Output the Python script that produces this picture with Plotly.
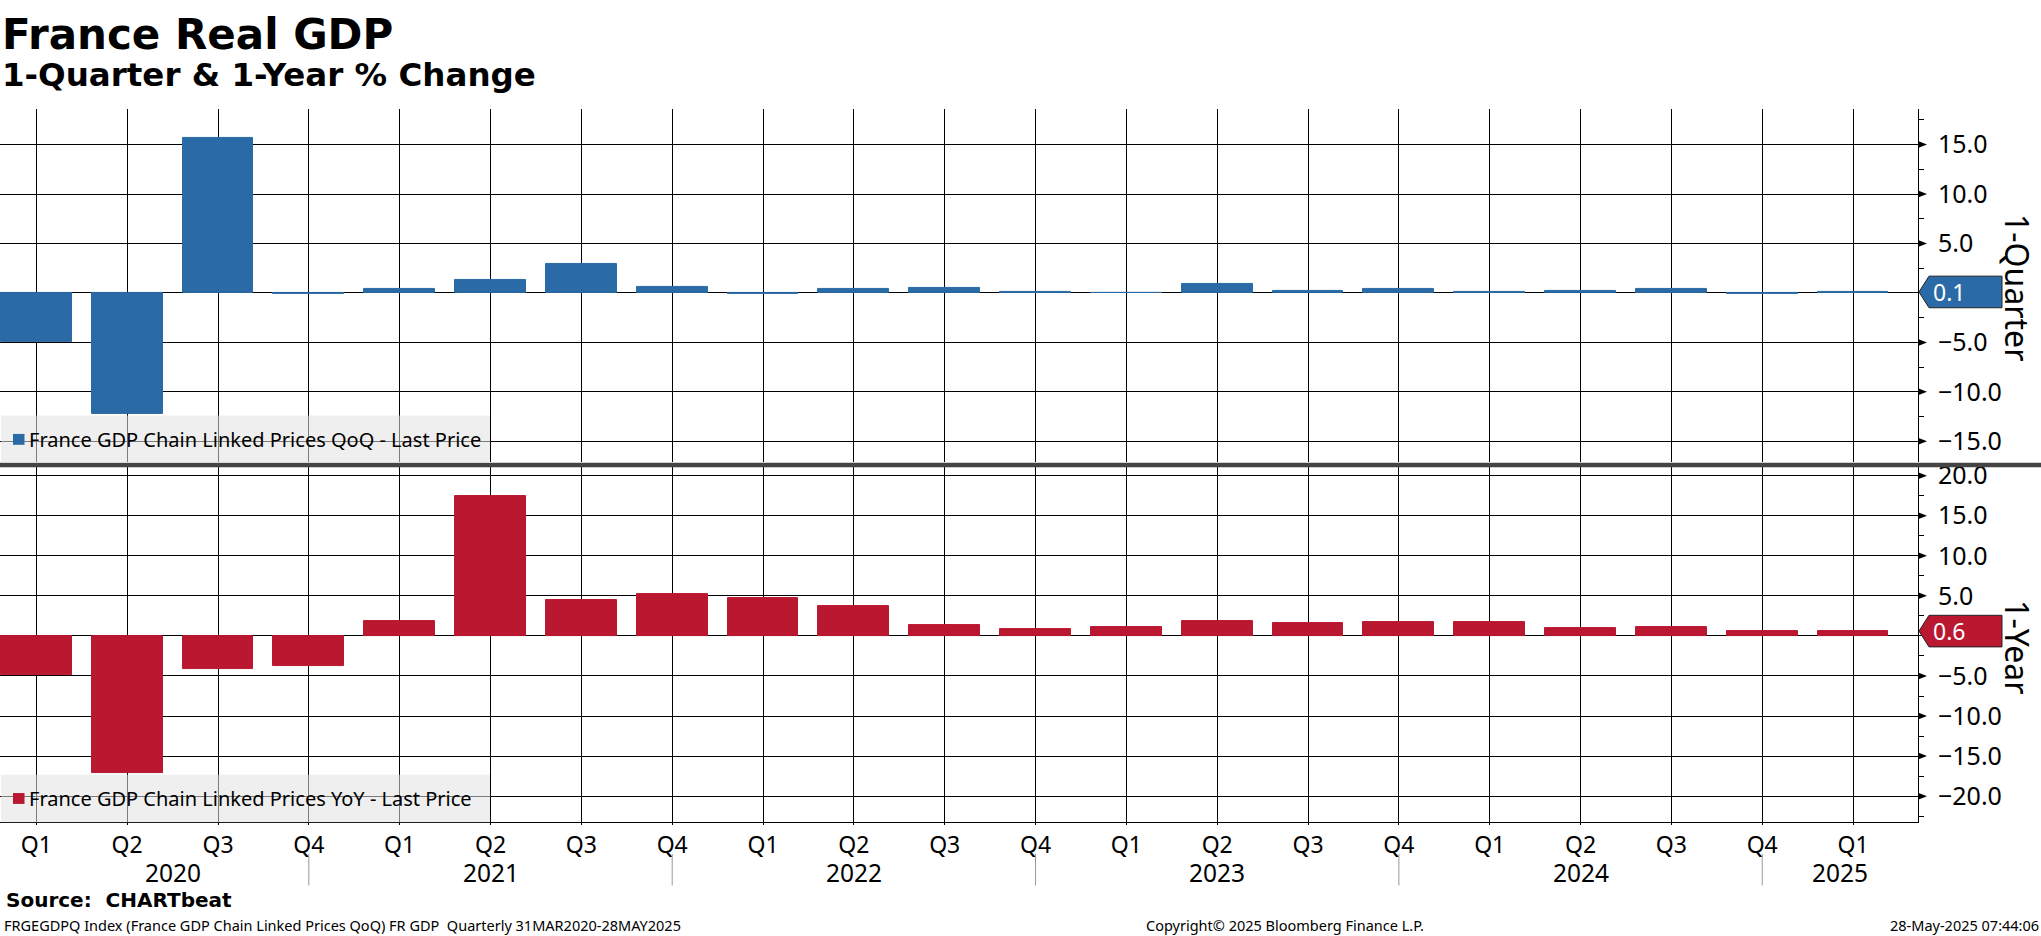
import plotly.graph_objects as go

# ---------------- data ----------------
quarters = ["Q1", "Q2", "Q3", "Q4"] * 5 + ["Q1"]
years = [2020] * 4 + [2021] * 4 + [2022] * 4 + [2023] * 4 + [2024] * 4 + [2025]
qoq = [-5.0, -12.2, 15.7, -0.1, 0.4, 1.3, 2.9, 0.6,
       -0.1, 0.4, 0.5, 0.1, 0.0, 0.9, 0.2, 0.4,
       0.1, 0.2, 0.4, -0.1, 0.1]
yoy = [-4.9, -17.1, -4.1, -3.7, 1.8, 17.4, 4.5, 5.2,
       4.7, 3.7, 1.4, 0.9, 1.1, 1.9, 1.6, 1.7,
       1.7, 1.0, 1.1, 0.6, 0.6]
# labelled ticks (the 0.0 label sits under the last-value tag)
top_ticks = [-15, -10, -5, 5, 10, 15]
bot_ticks = [-20, -15, -10, -5, 5, 10, 15, 20]
qoq_name = "France GDP Chain Linked Prices QoQ - Last Price"
yoy_name = "France GDP Chain Linked Prices YoY - Last Price"

# ---------------- style ----------------
W, H = 2041, 936
FONT = "Noto Sans"
BOLD = "DejaVu Sans"
BLUE = "#2a6aa6"
RED = "#ba1730"
idx = list(range(len(quarters)))
XR = [-0.40, 20.715]
XD = 1918 / W


def py(px):
    return 1 - px / H


def pxx(px):
    return px / W


fig = go.Figure()
fig.add_trace(go.Bar(x=idx, y=qoq, width=0.78, marker=dict(color=BLUE, line=dict(color=BLUE, width=1)),
                     xaxis="x", yaxis="y", showlegend=False, hoverinfo="y"))
fig.add_trace(go.Bar(x=idx, y=yoy, width=0.78, marker=dict(color=RED, line=dict(color=RED, width=1)),
                     xaxis="x2", yaxis="y2", showlegend=False, hoverinfo="y"))

grid = dict(showgrid=True, gridcolor="black", gridwidth=1)
yax_common = dict(side="right", tickformat=".1f", ticks="outside", ticklen=14,
                  tickcolor="rgba(0,0,0,0)", tickfont=dict(size=25),
                  showline=True, linecolor="black", linewidth=1,
                  zeroline=True, zerolinecolor="black", zerolinewidth=1,
                  minor=dict(dtick=2.5, tick0=0, ticks="outside", ticklen=5,
                             tickcolor="black", showgrid=False),
                  **grid)
fig.update_layout(
    width=W, height=H, margin=dict(l=0, r=0, t=0, b=0),
    paper_bgcolor="white", plot_bgcolor="white",
    font=dict(family=FONT, color="black"),
    bargap=0,
    xaxis=dict(domain=[0, XD], range=XR, anchor="y", tickvals=idx, showticklabels=False,
               ticks="", zeroline=False, **grid),
    xaxis2=dict(domain=[0, XD], range=XR, anchor="y2", tickvals=idx, ticktext=quarters,
                ticks="outside", ticklen=2, tickcolor="black", tickfont=dict(size=23),
                showline=True, linecolor="black", linewidth=1, zeroline=False, **grid),
    yaxis=dict(domain=[py(457), py(100)], range=[-17.1, 18.6], anchor="x",
               tickvals=top_ticks, **yax_common),
    yaxis2=dict(domain=[py(821), py(462)], range=[-23.25, 21.07], anchor="x2",
                tickvals=bot_ticks, **yax_common),
)

shapes = []
ann = []

# arrow-head ticks on right axes
for yref, ticks in (("y", top_ticks), ("y2", bot_ticks)):
    for t in ticks:
        shapes.append(dict(type="path", xref="paper", yref=yref, xsizemode="pixel", ysizemode="pixel",
                           xanchor=XD, yanchor=t, path="M0,-3.5 L9,0 L0,3.5 Z",
                           fillcolor="black", line=dict(width=0), layer="above"))

# panel separator
shapes.append(dict(type="line", xref="paper", yref="paper", x0=0, x1=1, y0=py(460), y1=py(460),
                   line=dict(color="#444444", width=4.5), layer="above"))

# last-value tags
for yref, series, col in (("y", qoq, BLUE), ("y2", yoy, RED)):
    last = series[-1]
    shapes.append(dict(type="path", xref="paper", yref=yref, xsizemode="pixel", ysizemode="pixel",
                       xanchor=XD, yanchor=last,
                       path="M1,0 L11,15.8 L84,15.8 L84,-15.8 L11,-15.8 Z",
                       fillcolor=col, line=dict(color="#222222", width=1), layer="above"))
    ann.append(dict(xref="paper", yref=yref, x=XD, y=last, xanchor="left", yanchor="middle",
                    xshift=13, text=f"{last:.1f}", showarrow=False,
                    font=dict(size=23, color="white", family=FONT)))

# right-side panel titles
ann.append(dict(xref="paper", yref="paper", x=pxx(2018), y=py(280), text="1-Quarter", textangle=90,
                showarrow=False, xanchor="center", yanchor="middle", font=dict(size=32)))
ann.append(dict(xref="paper", yref="paper", x=pxx(2018), y=py(644), text="1-Year", textangle=90,
                showarrow=False, xanchor="center", yanchor="middle", font=dict(size=32)))

# legend boxes
for (y0, y1, yc, col, name) in ((410, 458, 434, BLUE, qoq_name), (773, 821, 797, RED, yoy_name)):
    shapes.append(dict(type="rect", xref="paper", yref="paper", x0=pxx(1), x1=pxx(490),
                       y0=py(y1), y1=py(y0), fillcolor="rgba(226,226,226,0.55)",
                       line=dict(width=0), layer="above"))
    shapes.append(dict(type="rect", xref="paper", yref="paper", x0=pxx(13), x1=pxx(24.5),
                       y0=py(yc + 5.5), y1=py(yc - 5.5), fillcolor=col,
                       line=dict(width=0), layer="above"))
    ann.append(dict(xref="paper", yref="paper", x=pxx(27), y=py(yc), xanchor="left", yanchor="middle",
                    text=name, showarrow=False, font=dict(size=20)))

# year labels & separators on the bottom axis
yr_list = sorted(set(years))
for yr in yr_list:
    pos = [i for i, v in enumerate(years) if v == yr]
    q4 = [i for i in pos if quarters[i] == "Q4"]
    prev_q4 = [i for i, v in enumerate(years) if v == yr - 1 and quarters[i] == "Q4"]
    left = prev_q4[0] if prev_q4 else pos[0]
    right = q4[0] if q4 else XR[1]
    ann.append(dict(xref="x2", yref="paper", x=(left + right) / 2, y=py(872), text=str(yr),
                    showarrow=False, xanchor="center", yanchor="middle", font=dict(size=24.5)))
    if q4:
        shapes.append(dict(type="line", xref="x2", yref="paper", x0=q4[0], x1=q4[0],
                           y0=py(853), y1=py(885), line=dict(color="#999999", width=1)))

# titles and footer
ann.append(dict(xref="paper", yref="paper", x=0, y=py(25), xanchor="left", yanchor="middle",
                text="<b>France Real GDP</b>", showarrow=False,
                font=dict(size=42, family=BOLD)))
ann.append(dict(xref="paper", yref="paper", x=0, y=py(66), xanchor="left", yanchor="middle",
                text="<b>1-Quarter &amp; 1-Year % Change</b>", showarrow=False,
                font=dict(size=32.5, family=BOLD)))
ann.append(dict(xref="paper", yref="paper", x=pxx(4), y=py(900), xanchor="left", yanchor="middle",
                text="<b>Source:  CHARTbeat</b>", showarrow=False, font=dict(size=20, family=BOLD)))
ann.append(dict(xref="paper", yref="paper", x=pxx(2), y=py(925), xanchor="left", yanchor="middle",
                text="FRGEGDPQ Index (France GDP Chain Linked Prices QoQ) FR GDP  Quarterly 31MAR2020-28MAY2025",
                showarrow=False, font=dict(size=14.5)))
ann.append(dict(xref="paper", yref="paper", x=pxx(1285), y=py(925), xanchor="center", yanchor="middle",
                text="Copyright© 2025 Bloomberg Finance L.P.", showarrow=False, font=dict(size=14.5)))
ann.append(dict(xref="paper", yref="paper", x=1, y=py(925), xanchor="right", yanchor="middle",
                text="28-May-2025 07:44:06", showarrow=False, font=dict(size=14.5)))

fig.update_layout(shapes=shapes, annotations=ann)
fig.write_html("out.html", config={"displayModeBar": False},
               post_script="document.body.style.margin='0';document.body.style.overflow='hidden';")
